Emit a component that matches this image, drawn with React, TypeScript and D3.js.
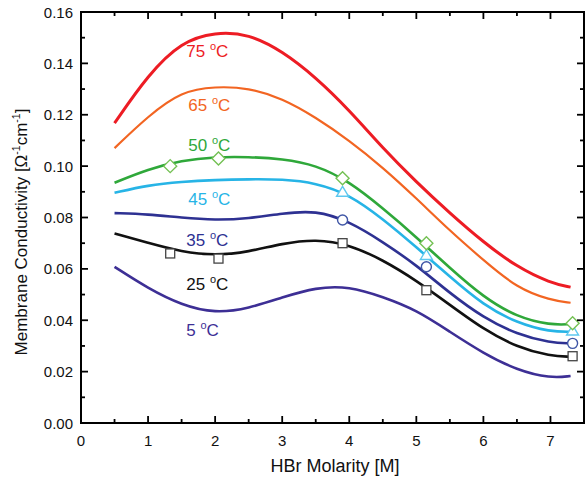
import React from "react";
import * as d3 from "d3";

const W = 587;
const H = 481;
const FONT = "'Liberation Sans', Arial, Helvetica, sans-serif";

const molarity = [0.5, 1, 1.5, 2, 2.5, 3, 3.5, 4, 4.5, 5, 5.5, 6, 6.5, 7, 7.3];

const c75 = [0.1167, 0.1356, 0.1485, 0.1522, 0.1515, 0.1448, 0.1346, 0.1218, 0.107, 0.0938, 0.0817, 0.0704, 0.0607, 0.0545, 0.0529];
const c65 = [0.107, 0.1195, 0.1292, 0.131, 0.1305, 0.1264, 0.119, 0.110, 0.0995, 0.0875, 0.0748, 0.0634, 0.0525, 0.0478, 0.0468];
const c50 = [0.0935, 0.0988, 0.1022, 0.1036, 0.1036, 0.1028, 0.1005, 0.094, 0.0836, 0.0724, 0.0603, 0.049, 0.0412, 0.0381, 0.0385];
const c45 = [0.0896, 0.0926, 0.0939, 0.0946, 0.0949, 0.0949, 0.0935, 0.089, 0.0795, 0.0685, 0.0569, 0.0459, 0.0389, 0.0355, 0.0355];
const c35 = [0.0817, 0.0813, 0.0799, 0.079, 0.0796, 0.0816, 0.0828, 0.0785, 0.0705, 0.0615, 0.0505, 0.041, 0.0345, 0.0312, 0.031];
const c25 = [0.0738, 0.0701, 0.0666, 0.0652, 0.0666, 0.0699, 0.0716, 0.0695, 0.0635, 0.0555, 0.046, 0.0365, 0.0295, 0.026, 0.0258];
const c5 = [0.0608, 0.0524, 0.0459, 0.0427, 0.0446, 0.0489, 0.0528, 0.0532, 0.0491, 0.044, 0.0355, 0.0271, 0.0206, 0.0174, 0.0183];

const seriesNames = ["75", "65", "50", "45", "35", "25", "5"];
const seriesValues = [c75, c65, c50, c45, c35, c25, c5];
const seriesColors = ["#ed1c24", "#f26522", "#2fa83a", "#27b4e6", "#2e3192", "#111111", "#3d2f95"];
const seriesWidths = [3, 2.2, 2.6, 2.6, 2.6, 2.6, 2.6];
const labelX = [1.57, 1.6, 1.6, 1.6, 1.57, 1.57, 1.57];
const labelY = [0.1423, 0.1213, 0.1057, 0.0849, 0.0690, 0.0519, 0.0338];

const markerX = [1.33, 2.05, 3.9, 5.15, 7.33];
const squares25 = [0.066, 0.064, 0.070, 0.0517, 0.026];
const circleX = [3.9, 5.15, 7.33];
const circles35 = [0.079, 0.0608, 0.031];
const triangles45 = [0.090, 0.0654, 0.036];
const diamonds50 = [0.100, 0.103, 0.0953, 0.070, 0.0388];

const xTicks = [0, 1, 2, 3, 4, 5, 6, 7];
const xMinor = [0.5, 1.5, 2.5, 3.5, 4.5, 5.5, 6.5];
const yTicks = [0, 0.02, 0.04, 0.06, 0.08, 0.1, 0.12, 0.14, 0.16];
const yMinor = [0.01, 0.03, 0.05, 0.07, 0.09, 0.11, 0.13, 0.15];

const left = 81, right = 584, top = 12, bottom = 423;

export default function App() {
  const x = d3.scaleLinear().domain([0, 7.5]).range([left, right]);
  const y = d3.scaleLinear().domain([0, 0.16]).range([bottom, top]);
  const line = d3
    .line<[number, number]>()
    .x((d) => x(d[0]))
    .y((d) => y(d[1]))
    .curve(d3.curveBasis);

  return (
    <svg width={W} height={H} style={{ position: "absolute", left: 0, top: 0, background: "#fff" }} fontFamily={FONT}>
      <rect x={0} y={0} width={W} height={H} fill="#fff" />
      {seriesValues.map((vals, i) => (
        <path
          key={seriesNames[i]}
          d={line(vals.map((v, j) => [molarity[j], v] as [number, number])) || ""}
          fill="none"
          stroke={seriesColors[i]}
          strokeWidth={seriesWidths[i]}
        />
      ))}
      {seriesNames.map((n, i) => (
        <text key={"l" + n} x={x(labelX[i])} y={y(labelY[i])} fontSize={17} fill={seriesColors[i]}>
          {n + " "}
          <tspan fontSize={11} dy={-7}>o</tspan>
          <tspan dy={7}>C</tspan>
        </text>
      ))}
      {markerX.map((mx, i) => (
        <rect key={"s" + i} x={x(mx) - 4.5} y={y(squares25[i]) - 4.5} width={9} height={9} fill="#fff" stroke="#444" strokeWidth={1.3} />
      ))}
      {circleX.map((mx, i) => (
        <circle key={"c" + i} cx={x(mx)} cy={y(circles35[i])} r={5} fill="#fff" stroke="#3f56a6" strokeWidth={1.4} />
      ))}
      {circleX.map((mx, i) => {
        const cx = x(mx), cy = y(triangles45[i]);
        return (
          <path key={"t" + i} d={`M${cx},${cy - 5.5}L${cx + 6},${cy + 4.5}L${cx - 6},${cy + 4.5}Z`} fill="#fff" stroke="#5ec8ef" strokeWidth={1.4} />
        );
      })}
      {markerX.map((mx, i) => {
        const cx = x(mx), cy = y(diamonds50[i]);
        return (
          <path key={"d" + i} d={`M${cx},${cy - 6.5}L${cx + 6.5},${cy}L${cx},${cy + 6.5}L${cx - 6.5},${cy}Z`} fill="#fff" stroke="#74c154" strokeWidth={1.4} />
        );
      })}
      {/* frame */}
      <rect x={left} y={top} width={right - left} height={bottom - top} fill="none" stroke="#000" strokeWidth={2} />
      {xTicks.map((t) => (
        <g key={"xt" + t}>
          <line x1={x(t)} x2={x(t)} y1={bottom} y2={bottom - 7} stroke="#000" strokeWidth={1.8} />
          <line x1={x(t)} x2={x(t)} y1={top} y2={top + 7} stroke="#000" strokeWidth={1.8} />
          <text x={x(t)} y={446} fontSize={15} textAnchor="middle" fill="#111">{t}</text>
        </g>
      ))}
      {xMinor.map((t) => (
        <g key={"xm" + t}>
          <line x1={x(t)} x2={x(t)} y1={bottom} y2={bottom - 4} stroke="#000" strokeWidth={1.8} />
          <line x1={x(t)} x2={x(t)} y1={top} y2={top + 4} stroke="#000" strokeWidth={1.8} />
        </g>
      ))}
      {yTicks.map((t) => (
        <g key={"yt" + t}>
          <line x1={left} x2={left + 7} y1={y(t)} y2={y(t)} stroke="#000" strokeWidth={1.8} />
          <line x1={right} x2={right - 7} y1={y(t)} y2={y(t)} stroke="#000" strokeWidth={1.8} />
          <text x={73} y={y(t) + 5.5} fontSize={15} textAnchor="end" fill="#111">{t.toFixed(2)}</text>
        </g>
      ))}
      {yMinor.map((t) => (
        <g key={"ym" + t}>
          <line x1={left} x2={left + 4} y1={y(t)} y2={y(t)} stroke="#000" strokeWidth={1.8} />
          <line x1={right} x2={right - 4} y1={y(t)} y2={y(t)} stroke="#000" strokeWidth={1.8} />
        </g>
      ))}
      <text x={335} y={472} fontSize={18} textAnchor="middle" fill="#111">HBr Molarity [M]</text>
      <text transform="translate(27,232) rotate(-90)" fontSize={17} textAnchor="middle" fill="#111">
        Membrane Conductivity [Ω
        <tspan fontSize={10.5} dy={-7}>-1</tspan>
        <tspan dy={7}>cm</tspan>
        <tspan fontSize={10.5} dy={-7}>-1</tspan>
        <tspan dy={7}>]</tspan>
      </text>
    </svg>
  );
}
